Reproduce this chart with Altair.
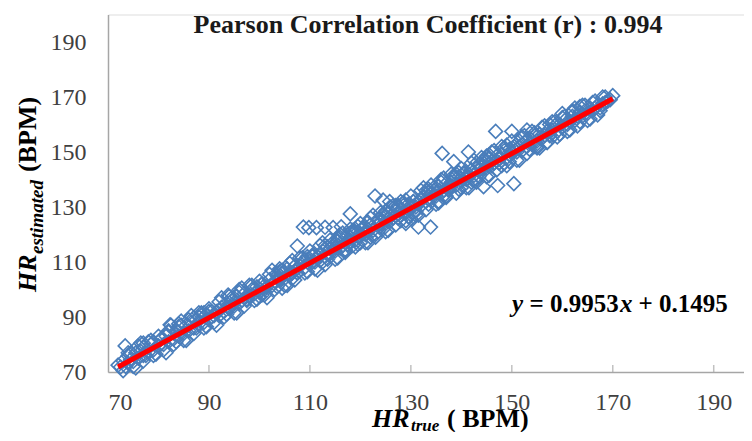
import altair as alt
import pandas as pd

# ---------------- data ----------------
hr_true = [
    72, 72.5, 73, 73.5, 74, 74, 74.5, 75, 75.5, 76,
    76.5, 77, 77, 78, 78.5, 79, 79, 80, 80.5, 81,
    81.5, 82, 82, 83, 83.5, 84, 84, 85, 85.5, 86,
    86.5, 87, 87.5, 88, 88, 89, 89.5, 90, 90, 91,
    91.5, 92, 92.5, 93, 93.5, 94, 94.5, 95, 95.5, 96,
    96.5, 97, 97.5, 98, 98.5, 99, 99.5, 100, 100.5, 101,
    101.5, 102, 102.5, 103, 103.5, 104, 104.5, 105, 105.5, 106,
    106.5, 107, 107.5, 108, 108.5, 109, 109.5, 110, 110.5, 111,
    92, 95, 98, 101, 104, 107, 110, 94, 100, 106,
    111.5, 112, 112.5, 113, 113.5, 114, 114.5, 115, 115.5, 116,
    116.5, 117, 117.5, 118, 118.5, 119, 119.5, 120, 120.5, 121,
    121.5, 122, 122.5, 123, 123.5, 124, 124.5, 125, 125.5, 126,
    126.5, 127, 127.5, 128, 128.5, 129, 129.5, 130, 130.5, 131,
    112, 115, 118, 121, 124, 127, 130, 114, 120, 126,
    113, 117, 119, 122, 125, 128, 116, 123, 129, 120,
    131.5, 132, 132.5, 133, 133.5, 134, 134.5, 135, 135.5, 136,
    136.5, 137, 137.5, 138, 138.5, 139, 139.5, 140, 140.5, 141,
    141.5, 142, 142.5, 143, 143.5, 144, 144.5, 145, 145.5, 146,
    146.5, 147, 147.5, 148, 148.5, 149, 149.5, 150, 150.5, 151,
    132, 135, 138, 141, 144, 147, 150, 134, 140, 146,
    133, 137, 139, 142, 145, 148, 136, 143, 149, 140,
    151.5, 152, 152.5, 153, 153.5, 154, 154.5, 155, 155.5, 156,
    156.5, 157, 157.5, 158, 158.5, 159, 159.5, 160, 160.5, 161,
    161.5, 162, 162.5, 163, 163.5, 164, 164.5, 165, 165.5, 166,
    166.5, 167, 167.5, 168, 168.5, 169, 169.5, 170, 158, 162,
    74, 75, 76, 77, 78, 79, 80, 81, 82, 83,
    84, 85, 86, 87, 88, 89, 90, 91, 92, 93,
    94, 95, 96, 97, 98, 99, 100, 101, 102, 103,
    104, 105, 106, 107, 108, 109, 110, 111, 112, 113,
    114, 115, 116, 117, 118, 119, 120, 121, 122, 123,
    124, 125, 126, 127, 128, 129, 130, 131, 132, 133,
    134, 135, 136, 137, 138, 139, 140, 141, 142, 143,
    144, 145, 146, 147, 148, 149, 150, 151, 152, 153,
    154, 155, 156, 157, 158, 159, 160, 161, 162, 163,
    164, 165, 166, 167, 168, 104.5, 115.5, 125.5, 135.5, 145.5,
    100.5, 103.5, 106.5, 109.5, 112.5, 115.5, 118.5, 121.5, 124.5, 127.5,
    130.5, 133.5, 136.5, 139.5, 142.5, 145.5, 148.5, 151.5, 154.5, 157.5,
    73, 74.5, 75.5, 76.5, 77.5, 78.5, 79.5, 80.5, 81.5, 82.5,
    83.5, 84.5, 85.5, 86.5, 87.5, 88.5, 89.5, 90.5, 91.5, 92.5,
    93.5, 94.5, 95.5, 96.5, 97.5, 98.5, 99.5, 100.5, 101.5, 102.5,
    103.5, 104.5, 105.5, 106.5, 107.5, 108.5, 109.5, 110.5, 111.5, 112.5,
    113.5, 114.5, 115.5, 116.5, 117.5, 118.5, 119.5, 120.5, 121.5, 122.5,
    123.5, 124.5, 125.5, 126.5, 127.5, 128.5, 129.5, 130.5, 131.5, 132.5,
    133.5, 134.5, 135.5, 136.5, 137.5, 138.5, 139.5, 140.5, 141.5, 142.5,
    143.5, 144.5, 145.5, 146.5, 147.5, 148.5, 149.5, 150.5, 151.5, 152.5,
    153.5, 154.5, 155.5, 156.5, 157.5, 158.5, 159.5, 160.5, 161.5, 162.5,
    163.5, 164.5, 165.5, 166.5, 167.5, 168.5, 119, 117, 131, 143,
    73.4, 77, 82.3, 84.5, 87, 93.8, 96, 107.5, 108.7, 109.8,
    111.3, 113, 114.6, 116.2, 118, 122.9, 124.5, 125.8, 130, 131.5,
    133.9, 136.2, 138.5, 141.4, 144.4, 147.2, 150.4, 146.8, 150, 153,
    160, 163.5, 157, 155, 129, 127, 119.5, 104, 100, 89,
]
hr_estimated = [
    72.5, 71.8, 74, 72, 73.2, 76, 74.5, 73.8, 77, 75,
    77.5, 76, 79, 77.2, 80, 78, 81, 79.5, 82, 80,
    83, 81, 84.5, 82, 85, 83, 86.5, 84, 87, 85,
    88, 86, 89, 87.5, 90, 88, 91, 89, 92, 90.5,
    92, 90.5, 93.5, 92, 95, 93, 96, 94, 97.5, 95,
    96, 98.5, 96.5, 98, 100, 98.5, 101, 99, 102, 100,
    101, 103.5, 101.5, 103, 105, 103.5, 106, 104, 107.5, 105,
    106, 108.5, 106, 108.5, 110, 108, 111, 109, 112.5, 110,
    92.3, 95.2, 97.6, 101.4, 104.2, 106.8, 110.3, 93.6, 100.2, 105.8,
    112, 110.5, 114, 112, 115.5, 113, 116, 114, 117.5, 115,
    116, 118.5, 116.5, 119, 120.5, 118, 121, 119.5, 122.5, 120,
    121, 123.5, 121.5, 124, 125.5, 123, 126, 124, 127.5, 125,
    126, 128.5, 126, 129, 130.5, 128, 131, 129.5, 132, 130,
    112.4, 115.3, 117.6, 121.2, 124.3, 126.7, 130.2, 114.8, 120.4, 126.5,
    116, 114, 122, 119, 128.5, 125, 119, 120, 132.5, 117,
    132, 130.5, 134, 132, 135.5, 133, 136, 134, 137.5, 135,
    136, 138.5, 136.5, 139, 140.5, 138, 141, 139.5, 142.5, 140,
    141, 143.5, 141.5, 144, 145.5, 143, 146, 144, 147.5, 145,
    146, 148.5, 146, 149, 150.5, 148, 151, 149.5, 152, 150,
    132.4, 135.3, 137.6, 141.2, 144.3, 146.7, 150.2, 134.8, 140.4, 146.5,
    136, 134, 142, 139, 148.5, 145, 139, 140, 152.5, 137,
    152, 150.5, 153.5, 152, 155, 153, 156, 154, 156.5, 155,
    156, 157.5, 156, 158, 159.5, 157.5, 160, 159, 161.5, 160,
    161, 163, 161.5, 163, 164.5, 163, 165, 164, 166, 165,
    166, 167, 166, 167.5, 168, 168.5, 169, 170.5, 155.5, 164.5,
    77, 72, 79.5, 74, 81, 76, 83, 78, 85, 80,
    87.5, 81.5, 89, 84, 91.5, 86, 93, 88, 95.5, 90,
    97.5, 91.5, 99, 94, 101.5, 96, 103, 98, 105.5, 100,
    107.5, 101.5, 109.5, 103.5, 111.5, 106, 114, 107.5, 116, 109,
    118, 111, 120, 113.5, 122, 115.5, 124, 117, 126, 119,
    128, 121, 130, 123.5, 132, 125, 134, 127, 136, 129,
    138, 131, 140, 133.5, 142, 135, 144, 137, 146, 139,
    148, 141, 150, 143.5, 152, 145, 154, 147, 155.5, 149.5,
    157.5, 151.5, 159, 153.5, 161, 155.5, 162.5, 157.5, 165, 159.5,
    167, 161.5, 168, 163.5, 170, 100.5, 118.5, 128, 132, 149,
    98, 106, 104, 112, 110, 117.5, 116, 124.5, 122, 130.5,
    128, 136.5, 134, 142.5, 140, 148, 146, 154, 152, 160,
    70.5, 77, 71.5, 80.5, 76, 81.5, 76.5, 82, 77, 87,
    81, 87, 81.5, 90.5, 86, 91.5, 86.5, 92, 87, 97,
    91, 97, 91.5, 100.5, 96, 101.5, 96.5, 102, 97, 107,
    101, 107, 101.5, 110.5, 106, 111.5, 106.5, 112, 107, 117,
    111, 117, 111.5, 120.5, 116, 121.5, 116.5, 122, 117, 127,
    121, 127, 121.5, 130.5, 126, 131.5, 126.5, 132, 127, 137,
    131, 137, 131.5, 140.5, 136, 141.5, 136.5, 142, 137, 147,
    141, 147, 141.5, 150.5, 146, 151.5, 146.5, 152, 147, 156,
    151, 157, 151.5, 159.5, 156, 161, 156.5, 163, 158, 166,
    161, 167, 162, 168.5, 165, 170, 121, 114.5, 128.5, 146,
    79.5, 80.5, 87.2, 88.5, 89.8, 98, 100, 115.8, 122.7, 122.5,
    122.5, 122.6, 122.5, 122.8, 127.5, 134, 132.5, 132, 125.7, 122.7,
    122.7, 149.5, 146.5, 150, 137.4, 137.8, 138.5, 157.5, 157.5, 158,
    164, 166.5, 153.5, 152, 124, 130.5, 123, 106.5, 97.5, 91.5,
]

# trend line y = 0.9953x + 0.1495, end points
trend_x = [72, 170]
trend_y = [71.81, 169.35]

tick_values = [70, 90, 110, 130, 150, 170, 190]
inner_ticks = [90, 110, 130, 150, 170, 190]

title_text = "Pearson Correlation Coefficient (r) : 0.994"

# ---------------- chart ----------------
W, H = 636, 357.5
SERIF = "Liberation Serif"

pts = pd.DataFrame({"hr_true": hr_true, "hr_est": hr_estimated})
trend = pd.DataFrame({"hr_true": trend_x, "hr_est": trend_y})
ticks = pd.DataFrame({"v": inner_ticks})

xscale = alt.Scale(domain=[70, 196], nice=False, zero=False)
yscale = alt.Scale(domain=[70, 200], nice=False, zero=False)

xaxis = alt.Axis(values=tick_values, title=None, grid=False, ticks=False,
                 domainColor="#A6A6A6", domainWidth=1.5,
                 labelFont=SERIF, labelFontSize=24, labelColor="#404040",
                 labelPadding=18)
yaxis = alt.Axis(values=tick_values, title=None, grid=False, ticks=False,
                 domainColor="#A6A6A6", domainWidth=1.5,
                 labelFont=SERIF, labelFontSize=24, labelColor="#404040",
                 labelPadding=22)

scatter = alt.Chart(pts).mark_point(
    shape="diamond", filled=False, size=190, strokeWidth=1.6,
    color="#4A7EBB", opacity=1
).encode(
    x=alt.X("hr_true:Q", scale=xscale, axis=xaxis),
    y=alt.Y("hr_est:Q", scale=yscale, axis=yaxis),
)

line = alt.Chart(trend).mark_line(color="#FF0000", strokeWidth=5).encode(
    x="hr_true:Q", y="hr_est:Q"
)

xticks = alt.Chart(ticks).mark_tick(
    color="#A6A6A6", thickness=1.5, size=7, orient="vertical"
).encode(x="v:Q", y=alt.value(H - 3.5))


def label(text, x, y, size, weight="bold", style="normal", angle=0,
          align="left", baseline="alphabetic", color="#000000"):
    kw = dict(font=SERIF, fontSize=size, fontWeight=weight, fontStyle=style,
              align=align, baseline=baseline, color=color)
    if angle:
        kw["angle"] = angle
    return alt.Chart(pd.DataFrame({"t": [text]})).mark_text(**kw).encode(
        x=alt.value(x), y=alt.value(y), text="t:N"
    )


title = label(title_text, 320, 10.5, 26, align="center", baseline="middle",
              color="#1a1a1a")

# equation  y = 0.9953x + 0.1495
ey = 297
eq = [
    label("y", 404, ey, 25, style="italic"),
    label("= 0.9953", 421.5, ey, 25),
    label("x", 512, ey, 25, style="italic"),
    label("+ 0.1495", 530.5, ey, 25),
]

# x title  HR_true ( BPM)
xt = [
    label("HR", 264, 412, 26, style="italic"),
    label("true", 303, 416, 17, style="italic"),
    label("( BPM)", 339, 412, 26),
]

# y title  HR_estimated (BPM)  (rotated)
yt = [
    label("HR", -72, 277.5, 26, style="italic", angle=270),
    label("estimated", -65, 239.5, 19, style="italic", angle=270),
    label("(BPM)", -72, 157.5, 26, angle=270),
]

chart = alt.layer(scatter, line, xticks, title, *eq, *xt, *yt).properties(
    width=W, height=H,
    autosize=alt.AutoSizeParams(type="none"),
    padding={"left": 100, "top": 6.5, "right": 0, "bottom": 60},
).configure_view(stroke=None).configure(background="white")

chart.save("out.html", embed_options={"renderer": "svg", "actions": False})
